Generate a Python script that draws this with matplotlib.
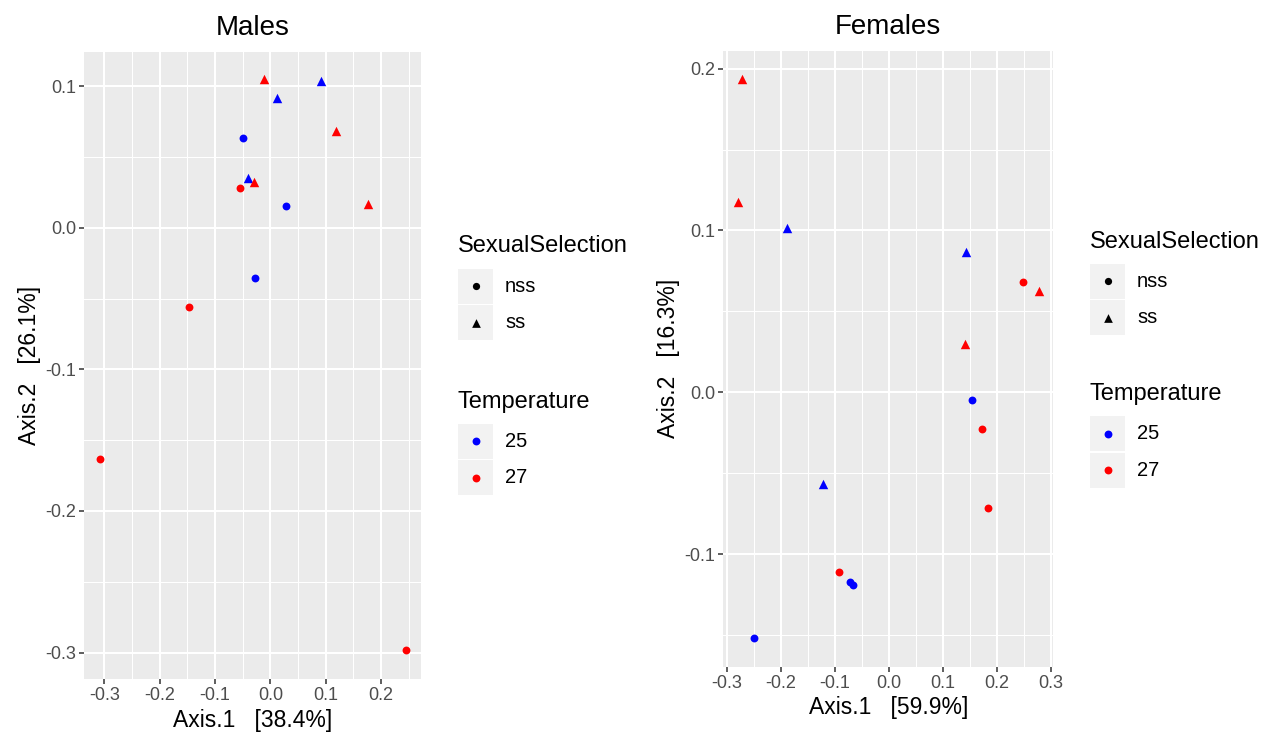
import matplotlib
matplotlib.use("Agg")
import matplotlib.pyplot as plt
from matplotlib.patches import Rectangle
from matplotlib.ticker import MultipleLocator, FuncFormatter

plt.rcParams["font.family"] = ["Liberation Sans", "DejaVu Sans"]

# ── data ──────────────────────────────────────────────────────────────────────
males_x = [-0.012, 0.0915, 0.0121, 0.1186, -0.0487, -0.0408, -0.030, -0.0547,
           0.0278, 0.177, -0.0276, -0.1473, -0.308, 0.2444]
males_y = [0.1048, 0.1036, 0.0918, 0.0683, 0.0631, 0.0353, 0.0320, 0.0278,
           0.0153, 0.0165, -0.0353, -0.056, -0.1636, -0.2985]
males_sel = ["ss", "ss", "ss", "ss", "nss", "ss", "ss", "nss",
             "nss", "ss", "nss", "nss", "nss", "nss"]
males_temp = [27, 25, 25, 27, 25, 25, 27, 27, 25, 27, 25, 27, 27, 27]

females_x = [-0.272, -0.2794, -0.1883, 0.1431, 0.2478, 0.2788, 0.1413, 0.1549,
             0.1723, -0.1214, 0.184, -0.0929, -0.0719, -0.0657, -0.2496]
females_y = [0.1937, 0.1178, 0.1017, 0.0869, 0.0684, 0.0626, 0.0299, -0.0049,
             -0.0227, -0.0565, -0.0713, -0.1112, -0.1174, -0.1191, -0.1519]
females_sel = ["ss", "ss", "ss", "ss", "nss", "ss", "ss", "nss",
               "nss", "ss", "nss", "nss", "nss", "nss", "nss"]
females_temp = [27, 27, 25, 25, 27, 27, 27, 25, 27, 25, 27, 27, 25, 25, 25]

sel_levels = ["nss", "ss"]
temp_levels = [25, 27]
markers = {"nss": "o", "ss": "^"}
msize = {"nss": 32, "ss": 46}
colors = {25: "#0000FF", 27: "#FF0000"}

PANEL_BG = "#EBEBEB"
KEY_BG = "#F2F2F2"
TICK_C = "#4D4D4D"

fig = plt.figure(figsize=(12.68, 7.35), dpi=100)
fig.patch.set_facecolor("white")

fmt = FuncFormatter(lambda v, p: f"{v:.1f}".replace("-0.0", "0.0"))


def panel(rect, xs, ys, sels, temps, title, xlab, ylab, xlim, ylim):
    ax = fig.add_axes(rect)
    ax.set_facecolor(PANEL_BG)
    for s in ax.spines.values():
        s.set_visible(False)
    for sel in sel_levels:
        for t in temp_levels:
            px = [x for x, a, b in zip(xs, sels, temps) if a == sel and b == t]
            py = [y for y, a, b in zip(ys, sels, temps) if a == sel and b == t]
            ax.scatter(px, py, marker=markers[sel], s=msize[sel], c=colors[t],
                       linewidths=0, zorder=3)
    ax.set_xlim(*xlim)
    ax.set_ylim(*ylim)
    ax.xaxis.set_major_locator(MultipleLocator(0.1))
    ax.yaxis.set_major_locator(MultipleLocator(0.1))
    ax.xaxis.set_minor_locator(MultipleLocator(0.05))
    ax.yaxis.set_minor_locator(MultipleLocator(0.05))
    ax.grid(which="major", color="white", lw=1.5)
    ax.grid(which="minor", color="white", lw=0.75)
    ax.set_axisbelow(True)
    ax.tick_params(which="major", length=3.5, width=1.1, color="#333333",
                   labelcolor=TICK_C, labelsize=13, pad=2.5)
    ax.tick_params(which="minor", length=0)
    ax.xaxis.set_major_formatter(fmt)
    ax.yaxis.set_major_formatter(fmt)
    ax.set_title(title, fontsize=20, pad=12.3)
    ax.set_xlabel(xlab, fontsize=16.5, labelpad=3)
    ax.set_ylabel(ylab, fontsize=16.5, labelpad=3)
    return ax


panel([0.06648, 0.07619, 0.2653, 0.8535], males_x, males_y, males_sel,
      males_temp, "Males", "Axis.1   [38.4%]", "Axis.2   [26.1%]",
      (-0.336, 0.2715), (-0.3187, 0.1243))
panel([0.5704, 0.0929, 0.2603, 0.8381], females_x, females_y, females_sel,
      females_temp, "Females", "Axis.1   [59.9%]", "Axis.2   [16.3%]",
      (-0.3067, 0.3048), (-0.1696, 0.2111))

# ── legends drawn in pixel coordinates on an overlay ──────────────────────────
ov = fig.add_axes([0, 0, 1, 1])
ov.set_xlim(0, 1268)
ov.set_ylim(735, 0)
ov.axis("off")
ov.patch.set_visible(False)

KEY = 35


def legend(x0, y_t1, y_k1, y_t2, y_k2):
    ov.text(x0, y_t1, "SexualSelection", fontsize=17, ha="left", va="center")
    for i, sel in enumerate(sel_levels):
        yk = y_k1 + i * (KEY + 1.7)
        ov.add_patch(Rectangle((x0, yk), KEY, KEY, facecolor=KEY_BG, edgecolor="none"))
        ov.scatter([x0 + KEY / 2], [yk + KEY / 2], marker=markers[sel],
                   s=msize[sel] * 0.85, c="black", linewidths=0)
        ov.text(x0 + KEY + 12, yk + KEY / 2, sel, fontsize=14.5, ha="left", va="center")
    ov.text(x0, y_t2, "Temperature", fontsize=17, ha="left", va="center")
    for i, t in enumerate(temp_levels):
        yk = y_k2 + i * (KEY + 1.7)
        ov.add_patch(Rectangle((x0, yk), KEY, KEY, facecolor=KEY_BG, edgecolor="none"))
        ov.scatter([x0 + KEY / 2], [yk + KEY / 2], marker="o",
                   s=msize["nss"], c=colors[t], linewidths=0)
        ov.text(x0 + KEY + 12, yk + KEY / 2, str(t), fontsize=14.5, ha="left", va="center")


legend(458, 246, 268.5, 402, 423.5)
legend(1090, 241.5, 263.5, 394, 416)

fig.savefig("out.png", dpi=100, facecolor="white")
